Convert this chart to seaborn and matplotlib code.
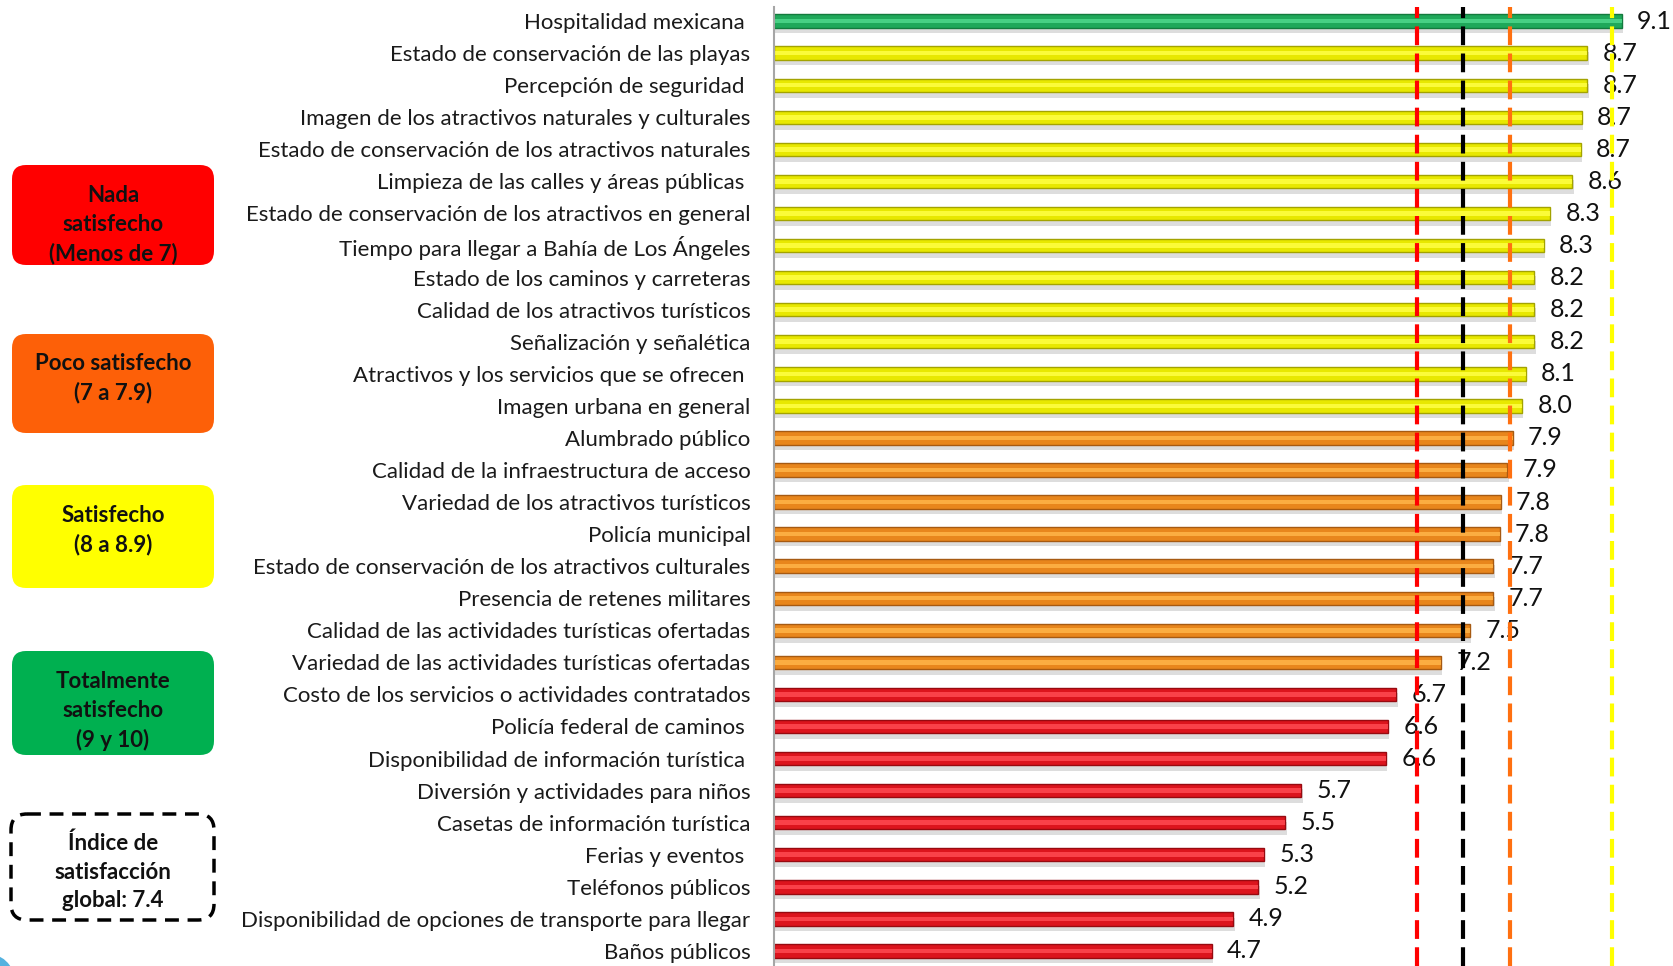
import matplotlib.pyplot as plt
import matplotlib.patheffects as pe
import seaborn as sns
from matplotlib.patches import FancyBboxPatch, Ellipse

categories = [
    "Hospitalidad mexicana ",
    "Estado de conservación de las playas",
    "Percepción de seguridad ",
    "Imagen de los atractivos naturales y culturales",
    "Estado de conservación de los atractivos naturales",
    "Limpieza de las calles y áreas públicas ",
    "Estado de conservación de los atractivos en general",
    "Tiempo para llegar a Bahía de Los Ángeles",
    "Estado de los caminos y carreteras",
    "Calidad de los atractivos turísticos",
    "Señalización y señalética",
    "Atractivos y los servicios que se ofrecen ",
    "Imagen urbana en general",
    "Alumbrado público",
    "Calidad de la infraestructura de acceso",
    "Variedad de los atractivos turísticos",
    "Policía municipal",
    "Estado de conservación de los atractivos culturales",
    "Presencia de retenes militares",
    "Calidad de las actividades turísticas ofertadas",
    "Variedad de las actividades turísticas ofertadas",
    "Costo de los servicios o actividades contratados",
    "Policía federal de caminos ",
    "Disponibilidad de información turística ",
    "Diversión y actividades para niños",
    "Casetas de información turística",
    "Ferias y eventos ",
    "Teléfonos públicos",
    "Disponibilidad de opciones de transporte para llegar",
    "Baños públicos",
]
scores = [9.10, 8.73, 8.73, 8.67, 8.66, 8.57, 8.33, 8.26, 8.16, 8.16,
          8.16, 8.07, 8.03, 7.93, 7.87, 7.80, 7.79, 7.72, 7.72, 7.47,
          7.16, 6.68, 6.59, 6.57, 5.66, 5.49, 5.26, 5.20, 4.93, 4.70]
score_labels = ["9.1", "8.7", "8.7", "8.7", "8.7", "8.6", "8.3", "8.3", "8.2", "8.2",
                "8.2", "8.1", "8.0", "7.9", "7.9", "7.8", "7.8", "7.7", "7.7", "7.5",
                "7.2", "6.7", "6.6", "6.6", "5.7", "5.5", "5.3", "5.2", "4.9", "4.7"]

# reference lines drawn on the chart
ref_values = [6.9, 7.4, 7.9, 9.0]
ref_colors = ["#ff0000", "#000000", "#ff7010", "#ffff00"]

legend_texts = [
    "Nada\nsatisfecho\n(Menos de 7)",
    "Poco satisfecho\n(7 a 7.9)",
    "Satisfecho\n(8 a 8.9)",
    "Totalmente\nsatisfecho\n(9 y 10)",
]
legend_colors = ["#ff0000", "#fd6008", "#ffff00", "#00b050"]
global_text = "Índice de\nsatisfacción\nglobal: 7.4"

# bar look per level: base, edge, highlight
level_style = {
    "green": ("#1fa85a", "#137a3d", "#4fd88c"),
    "yellow": ("#e8e800", "#a3a300", "#ffff45"),
    "orange": ("#e8861c", "#a65a12", "#ffb548"),
    "red": ("#dc141d", "#970a10", "#ff4a52"),
}


def level(label):
    v = float(label)
    if v >= 9:
        return "green"
    if v >= 8:
        return "yellow"
    if v >= 7:
        return "orange"
    return "red"


levels = [level(s) for s in score_labels]

sns.set_theme(style="white")
plt.rcParams["font.family"] = ["Lato", "DejaVu Sans"]

W, H = 1673, 966
fig = plt.figure(figsize=(W / 100, H / 100), dpi=100)
ax = fig.add_axes([774 / W, 0, 1 - 774 / W, 1 - 7 / H])

sns.barplot(
    x=scores, y=categories, hue=categories, orient="h", legend=False,
    palette=[level_style[l][0] for l in levels], saturation=1, width=0.42, ax=ax,
)
for bar, l in zip(ax.patches, levels):
    bar.set_edgecolor(level_style[l][1])
    bar.set_linewidth(1.0)
    bar.set_path_effects([
        pe.SimplePatchShadow(offset=(1, -4), shadow_rgbFace="#909090", alpha=0.3),
        pe.Normal(),
    ])

for cont, lab in zip(list(ax.containers), score_labels):
    ax.bar_label(cont, labels=[lab], padding=11, fontsize=18, color="#111111")

n_base = len(ax.patches)
# highlight stripe for the tube look
sns.barplot(
    x=scores, y=categories, hue=categories, orient="h", legend=False,
    palette=[level_style[l][2] for l in levels], saturation=1, width=0.14, ax=ax,
)
for bar in ax.patches[n_base:]:
    bar.set_linewidth(0)
    bar.set_alpha(0.85)

for v, c in zip(ref_values, ref_colors):
    ax.axvline(v, color=c, lw=3, ls=(0, (4.5, 2)), zorder=6)

ax.set_xlim(0, 9.65)
ax.set_ylim(29.47, -0.44)
ax.set_xticks([])
ax.set_xlabel("")
ax.set_ylabel("")
ax.tick_params(axis="y", length=0, pad=17, labelsize=16, labelcolor="#1a1a1a")
for side in ["top", "right", "bottom"]:
    ax.spines[side].set_visible(False)
ax.spines["left"].set_color("#a6a6a6")
ax.spines["left"].set_linewidth(1.5)

# legend boxes on the left, in pixel space
oax = fig.add_axes([0, 0, 1, 1])
oax.set_xlim(0, W)
oax.set_ylim(H, 0)
oax.axis("off")

box_tops = [165, 334, 485, 651]
box_heights = [100, 99, 103, 104]
text_mids = [225, 378, 530, 711]
for top, h, mid, txt, col in zip(box_tops, box_heights, text_mids,
                                 legend_texts, legend_colors):
    oax.add_patch(FancyBboxPatch((12, top), 202, h,
                                 boxstyle="round,pad=0,rounding_size=14",
                                 fc=col, ec="none"))
    oax.text(113, mid, txt, ha="center", va="center", fontsize=16,
             fontweight="bold", color="#111111", linespacing=1.45)

oax.add_patch(FancyBboxPatch((11, 814), 203, 106,
                             boxstyle="round,pad=0,rounding_size=16",
                             fc="white", ec="black", lw=2.5, ls=(0, (4, 2.5))))
oax.text(113, 872, global_text, ha="center", va="center", fontsize=16,
         fontweight="bold", color="#111111", linespacing=1.45)

oax.add_patch(Ellipse((-8, 990), 50, 70, fc="#2a9fd8", ec="none", alpha=0.8))

fig.savefig("out.png", dpi=100)
